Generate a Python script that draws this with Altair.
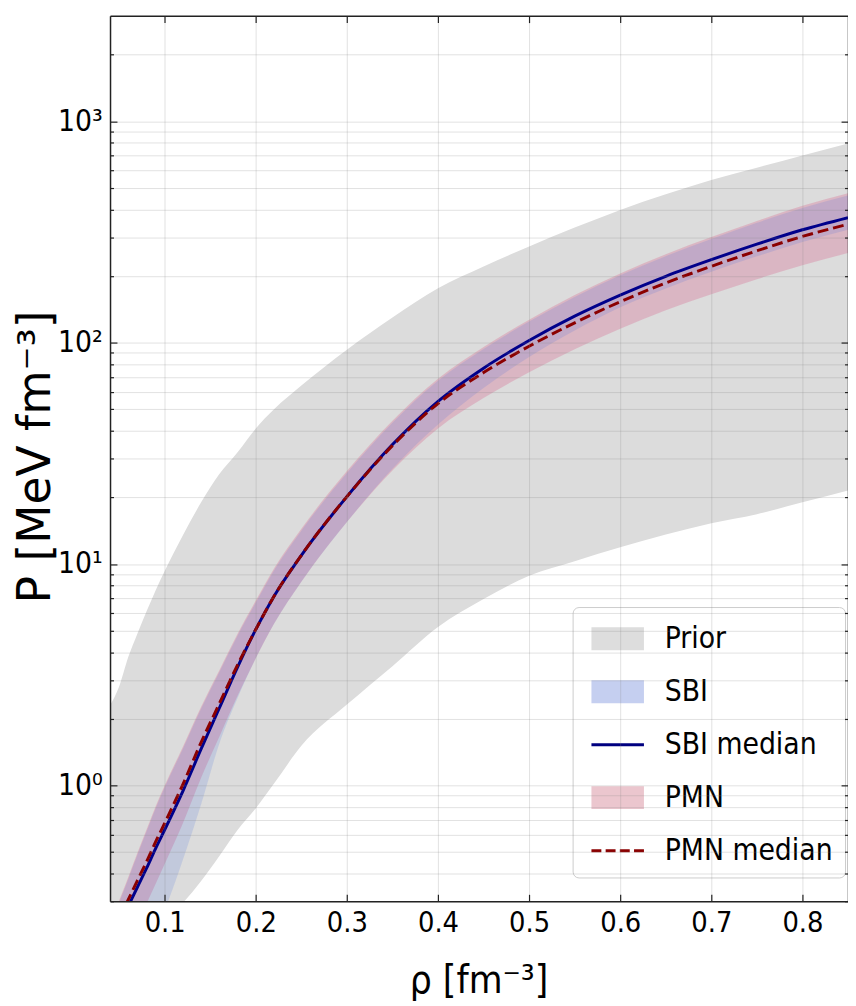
import altair as alt
import pandas as pd

# ---------------- data ----------------
rho_prior = [0.04, 0.05, 0.06, 0.07, 0.08, 0.09, 0.10, 0.12, 0.14, 0.16, 0.18, 0.20, 0.22, 0.25,
             0.30, 0.35, 0.40, 0.45, 0.50, 0.55, 0.60, 0.65, 0.70, 0.75, 0.80, 0.85]
prior_lo = [0.12, 0.14, 0.16, 0.18, 0.20, 0.22, 0.25, 0.295, 0.37, 0.48, 0.63, 0.79, 1.02, 1.51,
            2.32, 3.46, 5.2, 6.95, 8.85, 10.3, 11.9, 13.6, 15.3, 16.8, 19.0, 21.5]
prior_hi = [2.3, 2.8, 3.8, 4.85, 6.1, 7.6, 9.3, 13.5, 19.0, 25.5, 32.0, 41.0, 50.0, 64.0,
            93.0, 130.0, 176.0, 221.0, 272.0, 331.0, 398.0, 468.0, 543.0, 617.0, 700.0, 794.0]

rho_post = [0.05, 0.06, 0.07, 0.08, 0.09, 0.10, 0.12, 0.14, 0.16, 0.18, 0.20, 0.22, 0.25,
            0.30, 0.35, 0.40, 0.45, 0.50, 0.55, 0.60, 0.65, 0.70, 0.75, 0.80, 0.85]
sbi_lo = [0.102, 0.124, 0.151, 0.184, 0.226, 0.275, 0.462, 0.822, 1.549, 2.483, 3.758, 5.37,
          8.318, 15.49, 26.92, 42.66, 62.37, 86.1, 113.5, 144.5, 175.8, 208.9, 245.5, 285.1, 323.6]
sbi_hi = [0.296, 0.377, 0.485, 0.618, 0.788, 0.98, 1.466, 2.22, 3.245, 4.745, 6.70, 9.36,
          14.16, 25.8, 43.5, 67.3, 93.6, 124.6, 160.8, 201.5, 246.0, 294.0, 348.0, 406.0, 462.0]
sbi_med = [0.234, 0.285, 0.347, 0.422, 0.519, 0.631, 0.944, 1.462, 2.239, 3.428, 5.07, 7.161,
           10.96, 20.18, 34.67, 54.33, 76.74, 102.3, 131.8, 164.1, 199.5, 237.1, 278.6, 323.6, 367.3]
pmn_lo = [0.158, 0.193, 0.237, 0.292, 0.359, 0.442, 0.676, 1.084, 1.66, 2.541, 3.758, 5.37,
          8.318, 15.49, 26.49, 41.02, 56.23, 73.45, 93.33, 115.6, 140.0, 165.6, 193.6, 223.9, 254.1]
pmn_hi = [0.302, 0.385, 0.495, 0.631, 0.804, 1.0, 1.496, 2.265, 3.311, 4.842, 6.839, 9.55,
          14.45, 26.3, 44.36, 68.71, 95.5, 127.1, 164.1, 205.6, 251.2, 299.9, 354.8, 415.0, 473.2]
pmn_med = [0.251, 0.305, 0.372, 0.452, 0.556, 0.676, 1.012, 1.567, 2.344, 3.508, 5.07, 7.161,
           10.96, 20.18, 34.28, 53.09, 73.28, 96.38, 123.0, 153.1, 186.2, 221.3, 260.0, 302.0, 342.8]

legend_labels = ["Prior", "SBI", "SBI median", "PMN", "PMN median"]
x_ticks = [0.1, 0.2, 0.3, 0.4, 0.5, 0.6, 0.7, 0.8]
y_major = [1, 10, 100, 1000]
y_minor = [0.3, 0.4, 0.5, 0.6, 0.7, 0.8, 0.9,
           2, 3, 4, 5, 6, 7, 8, 9,
           20, 30, 40, 50, 60, 70, 80, 90,
           200, 300, 400, 500, 600, 700, 800, 900,
           2000]

prior_df = pd.DataFrame({"rho": rho_prior, "lo": prior_lo, "hi": prior_hi})
post_df = pd.DataFrame({"rho": rho_post, "sbi_lo": sbi_lo, "sbi_hi": sbi_hi, "sbi_med": sbi_med,
                        "pmn_lo": pmn_lo, "pmn_hi": pmn_hi, "pmn_med": pmn_med})
# legend-only rows, placed far outside the x domain (clipped away)
dummy_df = pd.DataFrame({"series": legend_labels, "rho": [-1.0] * 5, "P": [1.0] * 5})

# ---------------- styling ----------------
FONT = "DejaVu Sans Condensed, DejaVu Sans"
legend_colors = ["#dddddd", "#c5cff0", "#000080", "#ebc6ce", "#8b0000"]
RECT = "M-0.65,-0.575H2V0.575H-0.65Z"
LINE = "M-0.65,-0.075H2V0.075H-0.65Z"
DASH = ("M-0.65,-0.075H-0.15V0.075H-0.65Z M0.067,-0.075H0.567V0.075H0.067Z "
        "M0.783,-0.075H1.283V0.075H0.783Z M1.5,-0.075H2V0.075H1.5Z")
legend_shapes = [RECT, RECT, LINE, RECT, DASH]

xscale = alt.Scale(domain=[0.04, 0.85], nice=False, zero=False)
yscale = alt.Scale(type="log", domain=[0.3, 3000], nice=False)

common = dict(tickColor="#222222", tickWidth=1.2, domainColor="#222222", domainWidth=1.5,
              gridColor="#828282", gridOpacity=0.24, gridWidth=1, zindex=1)

x_main = alt.Axis(orient="bottom", values=x_ticks, format=".1f", grid=True,
                  tickSize={"expr": "-7"}, labelPadding=15, labelFont=FONT, labelFontSize=29,
                  labelColor="black", labelOverlap=False, labelFlush=False,
                  title="ρ [fm⁻³]", titleFont=FONT, titleFontSize=39, titleFontWeight="normal",
                  titleColor="black", titleX=372, titleY=92, titleAlign="center",
                  titleBaseline="alphabetic", **common)
y_main = alt.Axis(orient="left", values=y_major, grid=True,
                  labelExpr="datum.value == 1 ? '10⁰' : datum.value == 10 ? '10¹' : "
                            "datum.value == 100 ? '10²' : datum.value == 1000 ? '10³' : ''",
                  tickSize={"expr": "-7"}, labelPadding=15, labelFont=FONT, labelFontSize=30,
                  labelColor="black", labelOverlap=False, labelFlush=False,
                  title="P [MeV fm⁻³]", titleFont="DejaVu Sans", titleFontSize=46,
                  titleFontWeight="normal", titleColor="black", titleAngle=270,
                  titleX=-75, titleY=445, titleAlign="center", titleBaseline="middle", **common)
x_top = alt.Axis(orient="top", values=x_ticks, grid=False, labels=False, title=None,
                 tickSize={"expr": "-7"}, **common)
y_left_minor = alt.Axis(orient="left", values=y_minor, grid=True, labels=False, title=None,
                        domain=False, tickSize={"expr": "-3.5"}, **common)
y_right = alt.Axis(orient="right", values=y_major, grid=False, labels=False, title=None,
                   tickSize={"expr": "-7"}, **common)
y_right_minor = alt.Axis(orient="right", values=y_minor, grid=False, labels=False, title=None,
                         domain=False, tickSize={"expr": "-3.5"}, **common)

x_none = alt.X("rho:Q", scale=xscale, axis=None)

prior = alt.Chart(prior_df).mark_area(color="#dcdcdc", clip=True, interpolate="monotone").encode(
    x=alt.X("rho:Q", scale=xscale, axis=x_main),
    y=alt.Y("lo:Q", scale=yscale, axis=y_main),
    y2="hi:Q",
)
pmn_band = alt.Chart(post_df).mark_area(color="#d6336c", opacity=0.22, clip=True,
                                         interpolate="monotone").encode(
    x=x_none, y=alt.Y("pmn_lo:Q", scale=yscale, axis=None), y2="pmn_hi:Q")
sbi_band = alt.Chart(post_df).mark_area(color="#4169e1", opacity=0.16, clip=True,
                                         interpolate="monotone").encode(
    x=x_none, y=alt.Y("sbi_lo:Q", scale=yscale, axis=None), y2="sbi_hi:Q")
sbi_line = alt.Chart(post_df).mark_line(color="#00008b", strokeWidth=3, clip=True,
                                         interpolate="monotone").encode(
    x=x_none, y=alt.Y("sbi_med:Q", scale=yscale, axis=None))
pmn_line = alt.Chart(post_df).mark_line(color="#8b0000", strokeWidth=3, strokeDash=[11, 5],
                                         clip=True, interpolate="monotone").encode(
    x=x_none, y=alt.Y("pmn_med:Q", scale=yscale, axis=None))

legend = alt.Legend(title=None, orient="none", legendX=467, legendY=597, labelFont=FONT,
                    labelFontSize=30, labelColor="black", labelOffset=41, symbolSize=1600,
                    rowPadding=18.5, padding=12, fillColor="rgba(255,255,255,0.85)",
                    strokeColor="#cccccc", cornerRadius=6, symbolStrokeWidth=0, labelLimit=400)

dummy_a = alt.Chart(dummy_df).mark_point(filled=True, clip=True, size=1600, opacity=1).encode(
    x=alt.X("rho:Q", scale=xscale, axis=x_top),
    y=alt.Y("P:Q", scale=yscale, axis=y_left_minor),
    color=alt.Color("series:N", scale=alt.Scale(domain=legend_labels, range=legend_colors),
                    legend=legend),
    shape=alt.Shape("series:N", scale=alt.Scale(domain=legend_labels, range=legend_shapes),
                    legend=legend),
)
dummy_b = alt.Chart(dummy_df).mark_point(clip=True, opacity=0).encode(
    x=x_none, y=alt.Y("P:Q", scale=yscale, axis=y_right))
dummy_c = alt.Chart(dummy_df).mark_point(clip=True, opacity=0).encode(
    x=x_none, y=alt.Y("P:Q", scale=yscale, axis=y_right_minor))

chart = alt.layer(prior, pmn_band, sbi_band, sbi_line, pmn_line, dummy_a, dummy_b, dummy_c).resolve_axis(
    x="independent", y="independent"
).properties(
    width=745, height=894,
    autosize=alt.AutoSizeParams(type="none"),
    padding={"left": 103, "top": 3, "right": 0, "bottom": 100},
).configure_view(stroke=None)

chart.save("out.html", embed_options={"renderer": "svg", "actions": False})
